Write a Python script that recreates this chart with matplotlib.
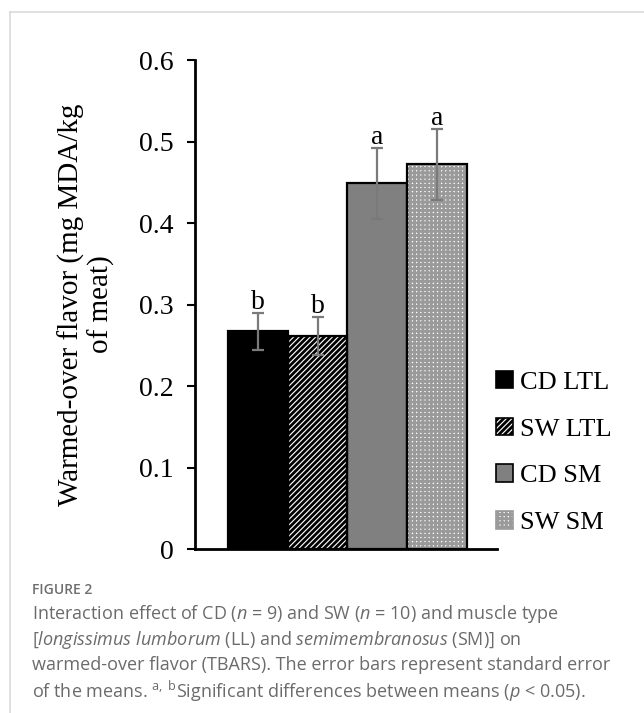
"""Warmed-over flavor (TBARS) bar chart with error bars and caption."""

import matplotlib
matplotlib.use("Agg")
import matplotlib.pyplot as plt
from matplotlib.patches import Patch
from matplotlib.lines import Line2D

# Data
groups = ['CD LTL', 'SW LTL', 'CD SM', 'SW SM']
means = [0.267, 0.261, 0.449, 0.472]
sem = [0.0225, 0.0235, 0.0435, 0.0435]
letters = ['b', 'b', 'a', 'a']
yticks = [0, 0.1, 0.2, 0.3, 0.4, 0.5, 0.6]
ytick_labels = ['0', '0.1', '0.2', '0.3', '0.4', '0.5', '0.6']

faces = ['black', 'white', '#808080', 'white']
hatch_colors = ['black', 'black', '#808080', '#9a9a9a']
hatches = [None, '//////', None, '++++']

plt.rcParams['hatch.linewidth'] = 2.0
plt.rcParams['mathtext.fontset'] = 'custom'
plt.rcParams['mathtext.rm'] = 'Open Sans'
plt.rcParams['mathtext.it'] = 'Open Sans:italic'

SERIF = 'Liberation Serif'
CAP_FONT = 'Open Sans'
CAP_COLOR = '#6b6b6b'

fig = plt.figure(figsize=(6.44, 7.13), dpi=100)
ax = fig.add_axes([0.3028, 0.23, 0.4689, 0.6858])

x = list(range(len(groups)))

# fill + hatch, then the black outline on top
fills = ax.bar(x, means, width=1.0, color=faces, edgecolor=hatch_colors, linewidth=0)
for bar, h in zip(fills, hatches):
    if h:
        bar.set_hatch(h)
ax.bar(x, means, width=1.0, fill=False, edgecolor='black', linewidth=1.6)

ax.errorbar(x, means, yerr=sem, fmt='none', ecolor='#7a7a7a', elinewidth=1.6,
            capsize=4.5, capthick=1.6)

for xi, m, s, lab in zip(x, means, sem, letters):
    ax.text(xi, m + s + 0.005, lab, ha='center', va='baseline',
            fontsize=20, family=SERIF)

ax.set_xlim(-1.055, 4.005)
ax.set_ylim(0, 0.6)
ax.set_xticks([])
ax.set_yticks(yticks)
ax.set_yticklabels(ytick_labels, family=SERIF, fontsize=20)
ax.tick_params(axis='y', direction='out', length=5.5, width=1.5, pad=10)
ax.spines['top'].set_visible(False)
ax.spines['right'].set_visible(False)
ax.spines['left'].set_linewidth(2)
ax.spines['bottom'].set_linewidth(2)

ax.set_ylabel('Warmed-over flavor (mg MDA/kg\nof meat)', family=SERIF,
              fontsize=21, linespacing=1.15)
ax.yaxis.set_label_coords(-0.265, 0.5)

handles = [Patch(facecolor=f, edgecolor=('black' if i < 3 else hc), hatch=h, linewidth=1.2)
           for i, (f, hc, h) in enumerate(zip(faces, hatch_colors, hatches))]
fig.legend(handles, groups, loc='center left',
           bbox_to_anchor=(496 / 644, 1 - 452.5 / 713),
           frameon=False, borderpad=0, borderaxespad=0,
           prop={'family': SERIF, 'size': 19},
           handlelength=0.65, handleheight=0.65, handletextpad=0.25,
           labelspacing=0.9)

# light page frame
fig.add_artist(Line2D([10 / 644, 1], [1 - 12 / 713] * 2, color='#dadada', lw=1.2))
fig.add_artist(Line2D([10 / 644] * 2, [0, 1 - 12 / 713], color='#dadada', lw=1.2))

# caption
cx = 32 / 644
fig.text(cx, 1 - 590 / 713, 'FIGURE 2', family=CAP_FONT, fontsize=10,
         color='#6e6e6e', va='center', fontweight='semibold')
cap_lines = [
    r'Interaction effect of CD ($\mathit{n}$ = 9) and SW ($\mathit{n}$ = 10) and muscle type',
    r'[$\mathit{longissimus\ lumborum}$ (LL) and $\mathit{semimembranosus}$ (SM)] on',
    'warmed-over flavor (TBARS). The error bars represent standard error',
    r'of the means. $^{\mathrm{a,\ b}}$Significant differences between means ($\mathit{p}$ < 0.05).',
]
for i, line in enumerate(cap_lines):
    fig.text(cx, 1 - (614 + 25.7 * i) / 713, line, family=CAP_FONT, fontsize=13,
             color=CAP_COLOR, va='center')

fig.savefig('out.png', dpi=100)
